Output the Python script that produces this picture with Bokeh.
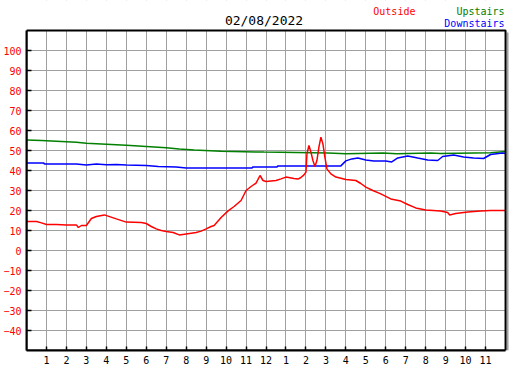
from bokeh.plotting import figure
from bokeh.models import Range1d, FixedTicker, Label, BoxAnnotation
from bokeh.embed import file_html
from bokeh.resources import INLINE

# ---- data ----
hour_ticks = list(range(1, 24))
hour_labels = ["1", "2", "3", "4", "5", "6", "7", "8", "9", "10", "11", "12",
               "1", "2", "3", "4", "5", "6", "7", "8", "9", "10", "11"]
temp_ticks = list(range(-40, 101, 10))

up_t = [0, 0.75, 1.75, 2.5, 3, 4, 5, 6, 7, 7.65, 8.4, 9.75, 11.9, 15.1, 16,
        17.85, 18.55, 20.25, 20.75, 23.25, 24]
up_v = [55.3, 55.0, 54.5, 54.1, 53.6, 53.1, 52.6, 52.0, 51.4, 50.8, 50.3, 49.6,
        49.2, 48.7, 48.4, 48.8, 48.4, 48.8, 48.5, 48.9, 49.5]

down_t = [0, 0.85, 0.9, 2.5, 3.0, 3.5, 4, 4.5, 5, 6, 6.6, 7.5, 8, 9, 10, 11.3,
          11.35, 12.55, 12.6, 14, 15, 15.75, 16.0, 16.3, 16.6, 17.0, 17.4, 18.0,
          18.3, 18.6, 19.1, 19.6, 20.1, 20.6, 20.85, 21.4, 21.9, 22.4, 22.9,
          23.25, 23.85, 24]
down_v = [43.8, 43.8, 43.3, 43.3, 42.8, 43.2, 42.9, 43.0, 42.8, 42.5, 42.0, 41.8,
          41.3, 41.3, 41.3, 41.3, 41.8, 41.8, 42.3, 42.3, 42.3, 42.3, 44.8, 45.8,
          46.3, 45.3, 44.8, 44.7, 44.3, 46.3, 47.3, 46.2, 45.3, 45.0, 47.0, 47.8,
          46.8, 46.3, 46.0, 48.0, 48.7, 48.5]

out_t = [0, 0.5, 0.75, 1.0, 1.5, 2.0, 2.5, 2.6, 2.75, 3.0, 3.25, 3.5, 3.9, 4.2,
         4.5, 5.0, 5.75, 6.0, 6.25, 6.5, 6.75, 7.0, 7.35, 7.65, 8.0, 8.5, 8.75,
         9.0, 9.25, 9.4, 9.75, 10.1, 10.4, 10.75, 11.0, 11.25, 11.5, 11.7, 11.85,
         12.0, 12.5, 12.75, 13.0, 13.4, 13.6, 13.75, 13.9, 14.0, 14.05, 14.15,
         14.25, 14.35, 14.45, 14.55, 14.65, 14.75, 14.85, 14.95, 15.05, 15.25,
         15.5, 16.0, 16.5, 16.75, 17.0, 17.35, 17.75, 18.25, 18.75, 19.1, 19.5,
         20.0, 20.75, 21.1, 21.2, 21.5, 22.1, 22.75, 23.25, 24.0]
out_v = [14.5, 14.5, 13.8, 13.0, 13.0, 12.8, 12.8, 11.5, 12.5, 12.5, 16.0, 17.0,
         17.8, 16.8, 15.8, 14.2, 14.0, 13.5, 12.0, 10.8, 10.0, 9.5, 9.0, 7.8, 8.3,
         9.0, 9.7, 10.8, 12.0, 12.5, 16.5, 19.8, 22.0, 25.0, 30.0, 32.0, 33.7,
         37.5, 35.0, 34.5, 35.0, 35.8, 36.7, 36.0, 35.7, 36.5, 37.8, 39.2, 48.3,
         52.5, 49.2, 45.0, 42.0, 45.0, 51.7, 56.7, 53.3, 46.7, 40.8, 38.3, 36.7,
         35.5, 35.0, 33.5, 31.7, 30.0, 28.3, 25.8, 24.7, 23.0, 21.3, 20.3, 19.7,
         19.0, 17.8, 18.5, 19.3, 19.7, 20.0, 20.0]

title_text = "02/08/2022"
series_names = ["Outside", "Upstairs", "Downstairs"]
series_colors = ["#ff0000", "#008000", "#0000ff"]

X0, X1 = 0, 24        # hours shown in the chart box
Y0, Y1 = -50, 110     # temperature range of the chart box

FONT = "DejaVu Sans Mono"

# frame spans the header and right margin too (so texts there are drawn);
# 20 px per hour, 2 px per degree
p = figure(width=527, height=370, output_backend="svg", toolbar_location=None,
           x_range=Range1d(X0, X1 + 22 / 20.0), y_range=Range1d(Y0, Y1 + 30 / 2.0),
           min_border_left=25, min_border_right=0, min_border_top=0,
           min_border_bottom=20, background_fill_color="white",
           border_fill_color="white")
p.outline_line_color = None

# x axis
p.xaxis.ticker = FixedTicker(ticks=hour_ticks)
p.xaxis.major_label_overrides = {t: l for t, l in zip(hour_ticks, hour_labels)}
p.xaxis.bounds = (X0, X1)
p.xaxis.major_tick_in = 4
p.xaxis.major_tick_out = 0
p.xaxis.minor_tick_in = 0
p.xaxis.minor_tick_out = 0
p.xaxis.axis_line_width = 2
p.xaxis.major_tick_line_width = 1.5
p.xaxis.major_label_standoff = 5
p.xaxis.major_label_text_font = FONT
p.xaxis.major_label_text_font_size = "10px"
p.xaxis.major_label_text_color = "black"

# y axis
p.yaxis.ticker = FixedTicker(ticks=temp_ticks)
p.yaxis.bounds = (Y0, Y1)
p.yaxis.major_tick_in = 5
p.yaxis.major_tick_out = 0
p.yaxis.minor_tick_in = 0
p.yaxis.minor_tick_out = 0
p.yaxis.axis_line_width = 2
p.yaxis.major_tick_line_width = 1.5
p.yaxis.major_label_standoff = 5
p.yaxis.major_label_text_font = FONT
p.yaxis.major_label_text_font_size = "10px"
p.yaxis.major_label_text_color = "#ff0000"

for g in (p.xgrid, p.ygrid):
    g.grid_line_color = "#a0a0a0"
    g.grid_line_width = 1

p.line(up_t, up_v, line_color=series_colors[1], line_width=1.5)
p.line(down_t, down_v, line_color=series_colors[2], line_width=1.5)
p.line(out_t, out_v, line_color=series_colors[0], line_width=1.5)

# white cover over header and right margin (hides grid lines there)
p.add_layout(BoxAnnotation(bottom=Y1, fill_color="white", fill_alpha=1.0,
                           line_color=None))
p.add_layout(BoxAnnotation(left=X1, fill_color="white", fill_alpha=1.0,
                           line_color=None))
# drop shadow at the right edge
px_h = 1 / 20.0
px_v = 1 / 2.0
p.add_layout(BoxAnnotation(left=X1 + 1 * px_h, right=X1 + 3 * px_h,
                           bottom=Y0, top=Y1 - 2 * px_v,
                           fill_color="#a0a0a0", fill_alpha=1.0, line_color=None))
# chart box border
p.add_layout(BoxAnnotation(left=X0, right=X1, bottom=Y0, top=Y1,
                           fill_alpha=0.0, line_color="black", line_width=2,
                           line_alpha=1.0))

p.add_layout(Label(x=11.9, y=115.0, text=title_text, text_align="center",
                   text_baseline="middle", text_font=FONT, text_font_size="13px",
                   text_color="black"))
p.add_layout(Label(x=17.375, y=119.5, text=series_names[0], text_align="left",
                   text_baseline="middle", text_font=FONT, text_font_size="10px",
                   text_color=series_colors[0]))
p.add_layout(Label(x=23.95, y=119.5, text=series_names[1], text_align="right",
                   text_baseline="middle", text_font=FONT, text_font_size="10px",
                   text_color=series_colors[1]))
p.add_layout(Label(x=23.95, y=113.5, text=series_names[2], text_align="right",
                   text_baseline="middle", text_font=FONT, text_font_size="10px",
                   text_color=series_colors[2]))

open("out.html", "w").write(file_html(p, INLINE))
